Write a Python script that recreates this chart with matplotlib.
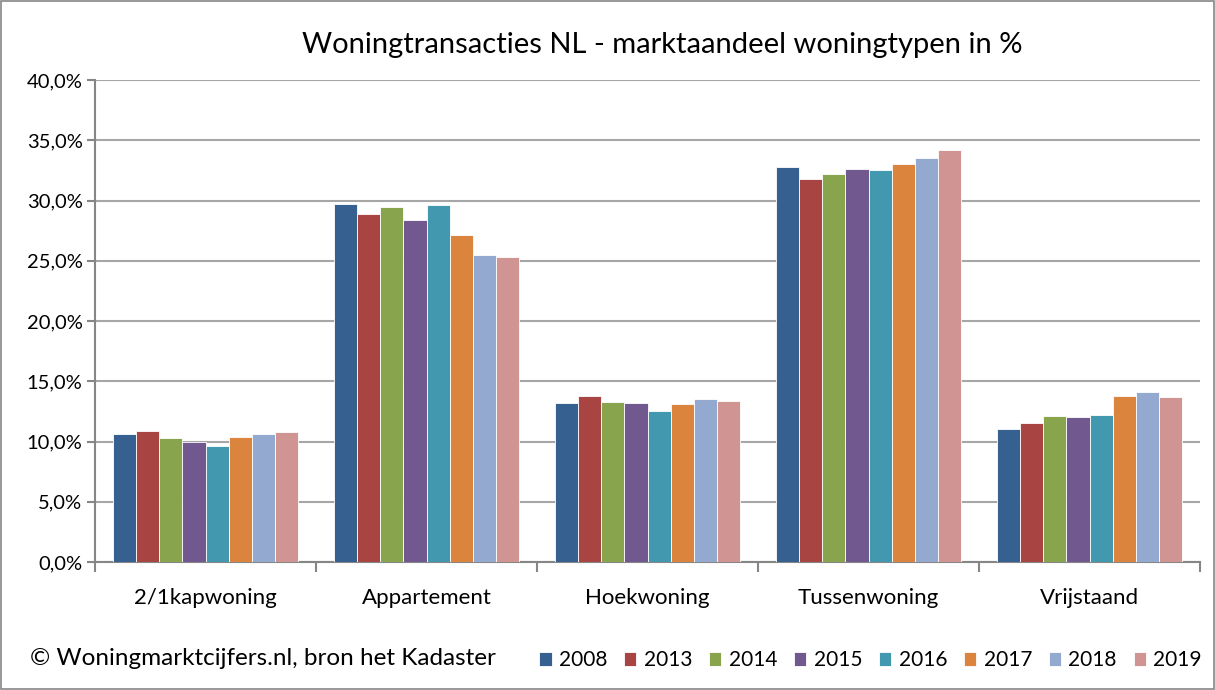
import numpy as np
import matplotlib
matplotlib.use("Agg")
import matplotlib.pyplot as plt
from matplotlib.patches import Rectangle
from matplotlib.ticker import FuncFormatter, MultipleLocator, FixedLocator

plt.rcParams['font.family'] = ['Lato', 'DejaVu Sans']

categories = ['2/1kapwoning', 'Appartement', 'Hoekwoning', 'Tussenwoning', 'Vrijstaand']
years = ['2008', '2013', '2014', '2015', '2016', '2017', '2018', '2019']
v2008 = [10.6, 29.7, 13.2, 32.8, 11.0]
v2013 = [10.9, 28.9, 13.8, 31.8, 11.5]
v2014 = [10.3, 29.5, 13.3, 32.2, 12.1]
v2015 = [10.0, 28.4, 13.2, 32.6, 12.0]
v2016 = [9.6, 29.6, 12.5, 32.5, 12.2]
v2017 = [10.4, 27.1, 13.1, 33.0, 13.8]
v2018 = [10.6, 25.5, 13.5, 33.5, 14.1]
v2019 = [10.8, 25.3, 13.4, 34.2, 13.7]
series = [v2008, v2013, v2014, v2015, v2016, v2017, v2018, v2019]
colors = ['#36608F', '#A84442', '#88A44D', '#71588F', '#4198AF', '#DB843D', '#93A9D0', '#D09493']

fig = plt.figure(figsize=(12.15, 6.9), dpi=100)
ax = fig.add_axes([0.0782, 0.1855, 0.9095, 0.6985])

x = np.arange(len(categories))
w = 0.105
for i, (vals, c) in enumerate(zip(series, colors)):
    ax.bar(x + (i - 3.5) * w, vals, w, color=c, edgecolor='white', linewidth=0.6,
           label=years[i], zorder=3)

ax.set_xlim(-0.5, 4.5)
ax.set_ylim(0, 40)
ax.yaxis.set_major_locator(MultipleLocator(5))
ax.yaxis.set_major_formatter(FuncFormatter(lambda v, p: ('%.1f%%' % v).replace('.', ',')))
ax.grid(axis='y', color='#A6A6A6', linewidth=1.5, zorder=0)
ax.set_xticks(x)
ax.set_xticklabels(categories, fontsize=16)
ax.xaxis.set_minor_locator(FixedLocator(np.arange(-0.5, 4.6, 1)))
ax.tick_params(axis='x', which='major', length=0, pad=19)
ax.tick_params(axis='x', which='minor', length=7, color='#868686', width=1.5)
ax.tick_params(axis='y', labelsize=14.5, length=6, color='#868686', width=1.5, pad=3)
for s in ['top', 'right']:
    ax.spines[s].set_visible(False)
for s in ['left', 'bottom']:
    ax.spines[s].set_color('#868686')
    ax.spines[s].set_linewidth(1.5)

fig.text(0.545, 0.935, 'Woningtransacties NL - marktaandeel woningtypen in %',
         ha='center', va='center', fontsize=21)
fig.text(0.025, 0.046, '© Woningmarktcijfers.nl, bron het Kadaster',
         ha='left', va='center', fontsize=17.5)

leg = fig.legend(loc='center right', bbox_to_anchor=(0.996, 0.043), ncol=8, frameon=False,
                 fontsize=15, handlelength=0.6, handleheight=0.6, handletextpad=0.35,
                 columnspacing=0.8, borderaxespad=0)

fig.patches.append(Rectangle((0.001, 0.001), 0.998, 0.997, transform=fig.transFigure,
                             fill=False, edgecolor='#868686', linewidth=1.2))

fig.savefig('out.png', dpi=100)
